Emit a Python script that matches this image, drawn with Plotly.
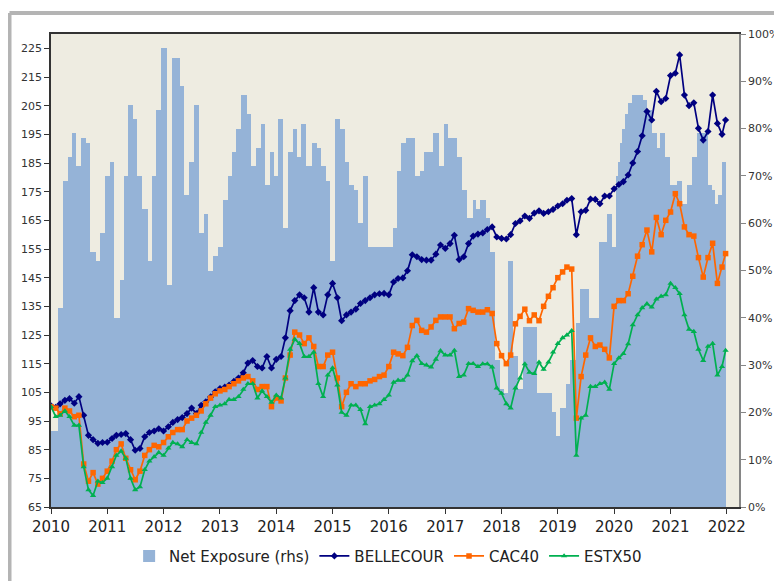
import pandas as pd
import plotly.graph_objects as go

# ---------------- data ----------------
# monthly observation dates (first of month 2010-01 .. 2021-12) plus last observation
line_dates = list(pd.date_range("2010-01-01", periods=144, freq="MS").strftime("%Y-%m-%d")) + ["2021-12-24"]

bellecour = [
    100.3, 99.8, 101, 102.2, 102.8, 101.2, 103.5, 97, 90, 88.5, 87.2, 87.5,
    87.6, 88.9, 90, 90.3, 90.6, 88.5, 84.8, 85.4, 89.5, 91, 91.5, 92.3,
    91.5, 93, 94.5, 95.5, 96.2, 97.6, 99.5, 97.6, 100.5, 101.7, 103.4, 105.2,
    106.3, 106.8, 107.5, 108.8, 110, 111.8, 115.2, 116.1, 114, 113.5, 117.5, 113.5,
    116.5, 117.5, 124, 133.5, 137, 139, 138, 133, 141.5, 133, 132, 139,
    143, 138, 130, 132, 133, 134, 136, 137, 138, 139, 139.4, 139.5,
    139, 143.5, 144.7, 144.9, 147.4, 153, 152.3, 151.3, 151.1, 151.1, 153.2, 156.4,
    155.2, 156.9, 159.8, 151.3, 152.3, 156.9, 159.5, 160.2, 160.6, 161.8, 162.7, 159.2,
    158.7, 158.5, 160, 163.9, 164.8, 166.5, 165.7, 167.5, 168.3, 167.4, 168, 168.8,
    170, 170.8, 172, 172.6, 160, 168, 168.5, 172.4, 172.3, 170.8, 173.5, 173.5,
    176, 177.5, 178.5, 180.8, 185, 189, 194.5, 203, 200, 210, 206.4, 207.5,
    215.5, 216.3, 222.7, 208.7, 205, 206, 197.1, 193, 196, 208.7, 198.8, 195,
    200,
]

cac40 = [
    100, 99.5, 97.5, 99.5, 98.5, 96.5, 97, 80, 74, 77, 73, 75,
    77.5, 81, 85, 87, 82, 78, 74.5, 77.5, 83, 85, 86.5, 86,
    87.5, 89.5, 91, 92, 92, 95, 96, 97, 98.5, 101, 103, 104.5,
    105.5, 106, 107, 108, 109, 110, 110.5, 109, 106, 107, 107, 100,
    103, 102, 110, 118, 126, 125, 122, 124, 121, 114, 114, 118,
    119, 110, 100, 105, 108, 107, 108, 108, 109, 109.5, 110.5, 111,
    114, 119, 118.4, 117.8, 120.7, 128.3, 130.1, 126.6, 126, 127.8, 130.1, 131.3,
    131.3, 131.3, 127.2, 129, 129.5, 134.2, 133.6, 133, 133, 133.8, 132.5, 122,
    117.8, 115, 118, 128.9, 131.5, 134, 130, 132, 130, 135, 138.5, 141.5,
    145, 147, 148.7, 148, 96, 110.5, 118, 124, 121, 121.5, 120, 117,
    135, 137, 137, 139.4, 145.5, 152.5, 156.5, 161.6, 154, 166, 160, 165,
    167.9, 174.3, 170.8, 162.7, 160, 159.5, 152, 145.2, 152, 157, 143, 148.7,
    153.4,
]

estx50 = [
    100, 96.5, 97, 98.5, 96.5, 93.5, 93.5, 79, 71, 69, 74, 73.5,
    75, 79, 83, 84.5, 82, 75, 71, 72, 78, 81, 82.5, 84,
    83, 85.5, 87.5, 87, 86, 88.5, 87.5, 87, 91, 94.5, 97, 100,
    100.5, 101, 102.5, 102.5, 103.5, 106, 108, 108, 103, 105.5, 103.5, 101.5,
    104, 103, 110, 120, 123.5, 122, 117.5, 117.5, 119, 108, 103.5, 111,
    113.5, 107.5, 98, 97, 100.5, 100.5, 99, 94, 100, 100.5, 101, 102.5,
    104, 108.5, 109.2, 109.2, 111, 116, 117.8, 115, 114.5, 113.8, 116.5, 119.5,
    118, 118, 119.6, 110.5, 111, 115, 115, 114, 114.9, 114.9, 113.8, 106.5,
    104.6, 101, 99.5, 106.5, 110, 114.9, 112, 111.5, 115.5, 113, 115.5, 119,
    122, 124, 125, 126.5, 83, 96, 97, 107, 107, 108, 108.5, 106,
    115, 117, 118.5, 121.9, 128.5, 132, 134.5, 135.9, 134.7, 137.5, 138.5, 139,
    143, 141.5, 139.4, 132, 127, 126.2, 120, 116.1, 121, 122, 111, 114,
    119.6,
]

# net exposure (rhs), step values in % with the date each level starts
exposure_start = [
    "2010-01-01", "2010-02-15", "2010-03-20", "2010-04-21", "2010-05-19", "2010-06-15",
    "2010-07-17", "2010-08-14", "2010-09-10", "2010-10-18", "2010-11-14", "2010-12-18",
    "2011-01-18", "2011-02-13", "2011-03-22", "2011-04-17", "2011-05-18", "2011-06-16",
    "2011-07-12", "2011-08-17", "2011-09-23", "2011-10-18", "2011-11-16", "2011-12-18",
    "2012-01-21", "2012-02-22", "2012-04-15", "2012-05-11", "2012-06-15", "2012-07-17",
    "2012-08-17", "2012-09-19", "2012-10-16", "2012-11-18", "2012-12-21",
    "2013-01-19", "2013-02-22", "2013-03-20", "2013-04-18", "2013-05-20", "2013-06-22",
    "2013-07-18", "2013-08-22", "2013-09-21", "2013-10-19", "2013-11-21", "2013-12-17",
    "2014-01-14", "2014-02-15", "2014-03-18", "2014-04-20", "2014-05-18", "2014-06-13",
    "2014-07-11", "2014-08-18", "2014-09-19", "2014-10-21", "2014-11-18", "2014-12-15",
    "2015-01-17", "2015-02-18", "2015-03-21", "2015-04-18", "2015-05-18", "2015-06-15",
    "2015-07-17", "2015-08-19",
    "2016-01-26", "2016-02-21", "2016-03-23", "2016-04-20", "2016-06-18", "2016-07-20",
    "2016-08-17", "2016-10-15", "2016-11-23", "2016-12-23",
    "2017-01-21", "2017-03-15", "2017-04-17", "2017-05-19", "2017-06-27", "2017-07-18",
    "2017-08-14", "2017-09-22", "2017-10-18", "2017-11-19", "2017-12-22",
    "2018-01-17", "2018-02-14", "2018-03-17", "2018-04-19", "2018-05-17", "2018-08-16",
    "2018-11-22", "2018-12-18",
    "2019-01-15", "2019-02-23", "2019-03-24", "2019-05-02", "2019-05-23", "2019-07-23",
    "2019-09-26", "2019-11-13", "2019-12-16",
    "2020-01-18", "2020-01-29", "2020-02-08", "2020-02-24", "2020-03-11", "2020-03-30",
    "2020-04-23", "2020-07-08", "2020-07-30", "2020-09-01", "2020-10-03", "2020-10-25",
    "2020-11-26", "2020-12-29",
    "2021-02-11", "2021-03-14", "2021-04-15", "2021-05-17", "2021-06-19", "2021-09-03",
    "2021-09-25", "2021-10-16", "2021-11-07", "2021-11-29",
]
exposure_end = "2021-12-27"
exposure_pct = [
    16, 42, 69, 74, 79, 72,
    78, 77, 54, 52, 58, 70,
    73, 40, 48, 70, 85, 82,
    70, 63, 52, 70, 84, 97,
    47, 95, 89, 66, 73, 85,
    58, 62, 50, 53, 55,
    65, 70, 75, 80, 87, 83,
    72, 76, 81, 68, 75, 70,
    82, 59, 75, 80, 74, 81,
    72, 77, 76, 72, 69, 52,
    82, 80, 73, 68, 67, 60,
    70, 55,
    59, 71, 77, 78, 70, 71,
    75, 79, 72, 81,
    78, 74, 67, 61, 65, 63,
    65, 61, 54, 31, 25,
    24, 52, 32, 25, 38, 24,
    20, 15,
    21, 26, 31, 39, 46, 40,
    56, 62, 55,
    70, 73, 77, 80, 83, 85.5,
    87, 86, 84, 79, 76, 79,
    74, 68,
    69, 64, 68, 74, 79, 68,
    67, 64, 66, 73,
]

year_ticks = list(range(2010, 2023))
left_ticks = list(range(65, 226, 10))
right_ticks = [i / 10 for i in range(11)]

# ---------------- figure ----------------
starts = pd.to_datetime(exposure_start)
ends = list(starts[1:]) + [pd.Timestamp(exposure_end)]
widths_ms = [(e - s).total_seconds() * 1000 for s, e in zip(starts, ends)]

FONT = "DejaVu Sans"
fig = go.Figure()
fig.add_trace(go.Bar(
    x=exposure_start, y=[p / 100 for p in exposure_pct], width=widths_ms, offset=0,
    marker=dict(color="#95B3D7", line=dict(width=0)),
    name="Net Exposure (rhs)", yaxis="y",
))
fig.add_trace(go.Scatter(
    x=line_dates, y=bellecour, mode="lines+markers", name="BELLECOUR", yaxis="y2",
    line=dict(color="#000080", width=1.7),
    marker=dict(symbol="diamond", size=5.5, color="#000080"),
))
fig.add_trace(go.Scatter(
    x=line_dates, y=cac40, mode="lines+markers", name="CAC40", yaxis="y2",
    line=dict(color="#FF6600", width=1.7),
    marker=dict(symbol="square", size=5.5, color="#FF6600"),
))
fig.add_trace(go.Scatter(
    x=line_dates, y=estx50, mode="lines+markers", name="ESTX50", yaxis="y2",
    line=dict(color="#00B050", width=1.7),
    marker=dict(symbol="triangle-up", size=5.5, color="#00B050"),
))

# page body has an 8px margin: figure is placed at (8, 8) in the window
W, H = 774, 573
PL, PR, PT, PB = 43, 731, 26, 498.7   # plot area in figure pixels

# frame (gray border of the chart object)
fx = (1.5 - PL) / (PR - PL)
fy = (PB - 5) / (PB - PT)
fig.add_shape(type="line", xref="paper", yref="paper", x0=fx, x1=fx, y0=-0.3, y1=fy,
              line=dict(color="#B4B4B4", width=4), layer="above")
fig.add_shape(type="line", xref="paper", yref="paper", x0=fx, x1=1.2, y0=fy, y1=fy,
              line=dict(color="#B4B4B4", width=4), layer="above")

fig.update_layout(
    width=W, height=H,
    margin=dict(l=PL, r=W - PR, t=PT, b=H - PB, autoexpand=False),
    paper_bgcolor="white", plot_bgcolor="#EEECE1",
    font=dict(family=FONT, color="#222222"),
    bargap=0, showlegend=True,
    xaxis=dict(
        type="date", range=["2010-01-01", "2022-03-21"], automargin=False,
        tickvals=[f"{y}-01-01" for y in year_ticks], ticktext=[str(y) for y in year_ticks],
        ticks="outside", ticklen=5, tickcolor="#333333", tickwidth=1,
        showline=True, linecolor="#333333", linewidth=1.5, mirror=True,
        showgrid=False, zeroline=False, tickfont=dict(size=15, family=FONT, color="#222222"),
    ),
    yaxis=dict(
        side="right", range=[0, 1], tickvals=right_ticks, tickformat=".0%", automargin=False,
        ticks="outside", ticklen=5, tickcolor="#868686",
        showline=True, linecolor="#868686", linewidth=1.5,
        showgrid=False, zeroline=False, tickfont=dict(size=11, family=FONT, color="#333333"),
    ),
    yaxis2=dict(
        side="left", overlaying="y", range=[65, 230], tickvals=left_ticks, automargin=False,
        ticks="outside", ticklen=5, tickcolor="#333333",
        showline=True, linecolor="#333333", linewidth=1.5,
        showgrid=False, zeroline=False, tickfont=dict(size=11, family=FONT, color="#333333"),
    ),
    legend=dict(
        orientation="h", x=0.49, xanchor="center", y=-0.104, yanchor="middle",
        font=dict(size=15, family=FONT, color="#222222"), bgcolor="rgba(0,0,0,0)",
        itemwidth=30,
    ),
)

fig.write_html("out.html")
